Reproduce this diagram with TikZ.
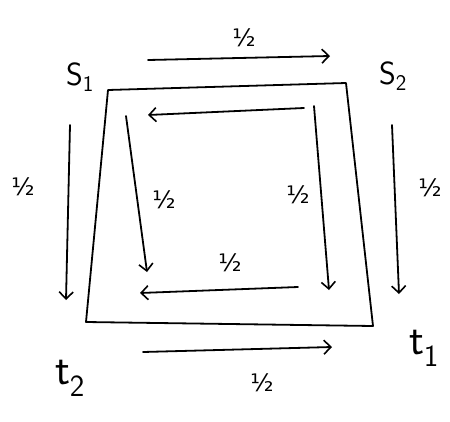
\documentclass[tikz,border=0pt]{standalone}
\usepackage{fontspec}
\usetikzlibrary{arrows.meta}
\newfontfamily\djv{DejaVu Sans}
\begin{document}
\begin{tikzpicture}[x=1pt,y=-1pt,
  ink/.style={line width=1.8pt,line cap=round,line join=round},
  arr/.style={ink,-{Straight Barb[length=7pt,width=14pt,line width=1.6pt]}},
  lbl/.style={inner sep=0pt},
  frac/.style={font=\djv\fontsize{24}{24}\selectfont,inner sep=0pt}]
\useasboundingbox (0,0) rectangle (450,421);
% square corners
\coordinate (TL) at (108,90);
\coordinate (TR) at (346,83);
\coordinate (BR) at (373,326);
\coordinate (BL) at (86,322);
\draw[ink] (TL) -- (TR) -- (BR) -- (BL) -- cycle;
% corner labels
\node[lbl,font=\sffamily\fontsize{32}{32}\selectfont] (s1) at (80,77) {S\textsubscript{1}};
\node[lbl,font=\sffamily\fontsize{32}{32}\selectfont] (s2) at (393,76) {S\textsubscript{2}};
\node[lbl,font=\sffamily\fontsize{44}{44}\selectfont] (t1) at (424,348) {t\textsubscript{1}};
\node[lbl,font=\sffamily\fontsize{44}{44}\selectfont] (t2) at (70,378) {t\textsubscript{2}};
% outside top
\coordinate (a1) at (148,60); \coordinate (a2) at (330,56);
\draw[arr] (a1) -- (a2);
\node[frac] (h1) at (244,38) {½};
% inside top (leftward)
\coordinate (b1) at (304,108); \coordinate (b2) at (148,115);
\draw[arr] (b1) -- (b2);
% outside left
\coordinate (c1) at (70,125); \coordinate (c2) at (66,300);
\draw[arr] (c1) -- (c2);
\node[frac] (h2) at (23,187) {½};
% inside left
\coordinate (d1) at (126,116); \coordinate (d2) at (147,272);
\draw[arr] (d1) -- (d2);
\node[frac] (h3) at (164,200) {½};
% inside right
\coordinate (e1) at (314,106); \coordinate (e2) at (329,290);
\draw[arr] (e1) -- (e2);
\node[frac] (h4) at (298,195) {½};
% outside right
\coordinate (f1) at (392,125); \coordinate (f2) at (399,294);
\draw[arr] (f1) -- (f2);
\node[frac] (h5) at (430,188) {½};
% inside bottom (leftward)
\coordinate (g1) at (298,287); \coordinate (g2) at (140,293);
\draw[arr] (g1) -- (g2);
\node[frac] (h6) at (230,263) {½};
% outside bottom
\coordinate (k1) at (143,352); \coordinate (k2) at (332,347);
\draw[arr] (k1) -- (k2);
\node[frac] (h7) at (262,383) {½};
\end{tikzpicture}
\end{document}
